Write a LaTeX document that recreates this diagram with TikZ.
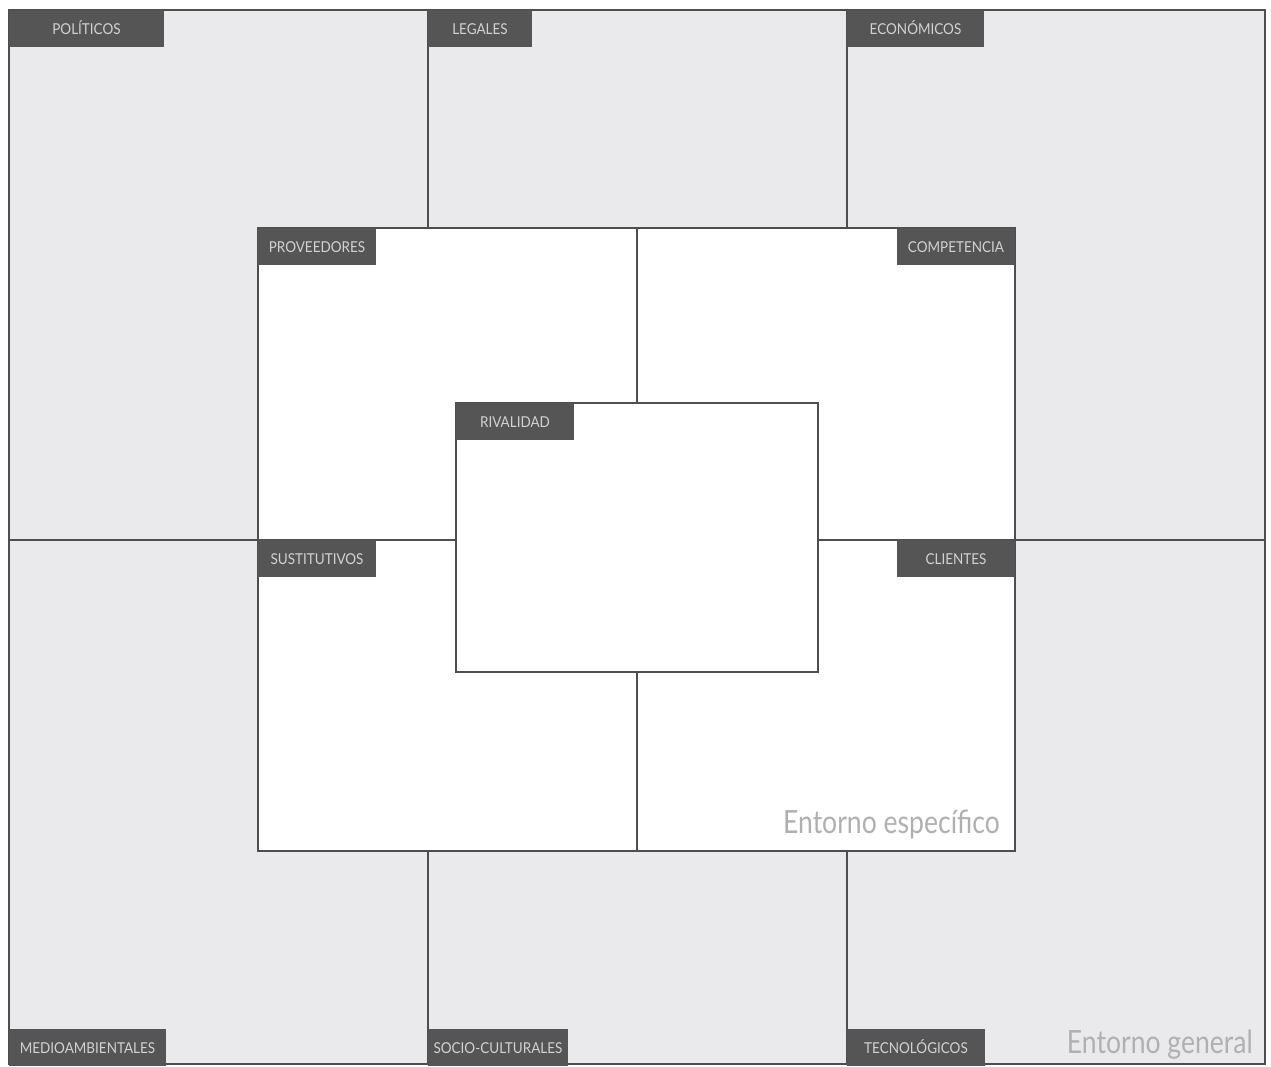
\documentclass[tikz,border=0pt]{standalone}
\usepackage{fontspec}
\usepackage{graphicx}
\setmainfont{Lato}
\usetikzlibrary{positioning}

\definecolor{envgray}{RGB}{234,234,236}
\definecolor{tabgray}{RGB}{85,85,85}
\definecolor{tabtext}{RGB}{210,210,210}
\definecolor{edgegray}{RGB}{78,78,78}
\definecolor{captiongray}{RGB}{176,176,176}

% condensed look of the labels
\newcommand{\narrowtext}[2]{\scalebox{#1}[1]{#2}}

\begin{document}
\begin{tikzpicture}[
    x=1pt, y=-1pt,
    region/.style={draw=edgegray, line width=1.6pt, inner sep=0pt, outer sep=0pt,
                   anchor=north west},
    frame/.style={draw=edgegray, line width=1.6pt},
    tab/.style={fill=tabgray, text=tabtext, minimum height=37pt, inner sep=0pt,
                outer sep=0pt, text height=11pt, text depth=0pt,
                font=\fontsize{15}{15}\selectfont},
    caption/.style={text=captiongray, inner sep=0pt, anchor=base east,
                    font=\fontsize{32}{32}\selectfont},
]
    \useasboundingbox (0,0) rectangle (1271,1066);

    %==================== REGIONS ====================
    \node[region, fill=envgray, minimum width=1256pt, minimum height=1054pt]
        (general) at (9,10) {};
    \node[region, fill=white, minimum width=757pt, minimum height=623pt]
        (specific) at (258,228) {};
    \node[region, fill=white, minimum width=362pt, minimum height=269pt]
        (rival) at (456,403) {};

    %==================== DIVIDERS ====================
    \coordinate (midrow) at (0,540);
    \coordinate (colA) at (428,0);
    \coordinate (colB) at (847,0);
    \coordinate (colC) at (637,0);

    \draw[frame] (general.west |- midrow) -- (rival.west |- midrow);
    \draw[frame] (rival.east |- midrow) -- (general.east |- midrow);
    \draw[frame] (colA |- general.north) -- (colA |- specific.north);
    \draw[frame] (colB |- general.north) -- (colB |- specific.north);
    \draw[frame] (colA |- specific.south) -- (colA |- general.south);
    \draw[frame] (colB |- specific.south) -- (colB |- general.south);
    \draw[frame] (colC |- specific.north) -- (colC |- rival.north);
    \draw[frame] (colC |- rival.south) -- (colC |- specific.south);

    %==================== TABS: general ====================
    \node[tab, minimum width=155pt, anchor=north west] (politicos)
        at (general.north west) {\narrowtext{0.9}{POLÍTICOS}};
    \node[tab, minimum width=104pt, anchor=north west] (legales)
        at (colA |- general.north) {\narrowtext{0.9}{LEGALES}};
    \node[tab, minimum width=137pt, anchor=north west] (economicos)
        at (colB |- general.north) {\narrowtext{0.9}{ECONÓMICOS}};
    \node[tab, minimum width=157pt, anchor=south west] (medio)
        at ([yshift=-2pt]general.south west) {\narrowtext{0.9}{MEDIOAMBIENTALES}};
    \node[tab, minimum width=140pt, anchor=south west] (socio)
        at ([yshift=-2pt]colA |- general.south) {\narrowtext{0.9}{SOCIO-CULTURALES}};
    \node[tab, minimum width=138pt, anchor=south west] (tecno)
        at ([yshift=-2pt]colB |- general.south) {\narrowtext{0.9}{TECNOLÓGICOS}};

    %==================== TABS: specific ====================
    \node[tab, minimum width=118pt, anchor=north west] (proveedores)
        at (specific.north west) {\narrowtext{0.9}{PROVEEDORES}};
    \node[tab, minimum width=118pt, anchor=north east] (competencia)
        at (specific.north east) {\narrowtext{0.9}{COMPETENCIA}};
    \node[tab, minimum width=118pt, anchor=north west] (sustitutivos)
        at (specific.west |- midrow) {\narrowtext{0.9}{SUSTITUTIVOS}};
    \node[tab, minimum width=118pt, anchor=north east] (clientes)
        at (specific.east |- midrow) {\narrowtext{0.9}{CLIENTES}};
    \node[tab, minimum width=118pt, anchor=north west] (rivalidad)
        at (rival.north west) {\narrowtext{0.9}{RIVALIDAD}};

    %==================== CAPTIONS ====================
    \node[caption] (specificcap) at ([xshift=-15pt, yshift=18pt]specific.south east)
        {\narrowtext{0.83}{Entorno específico}};
    \node[caption] (generalcap) at ([xshift=-12pt, yshift=11pt]general.south east)
        {\narrowtext{0.83}{Entorno general}};

\end{tikzpicture}
\end{document}
